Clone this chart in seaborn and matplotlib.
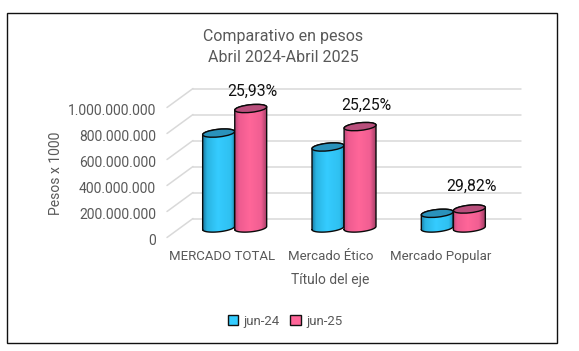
"""Comparativo en pesos, 3D-look cylinder bars on a seaborn barplot"""

import numpy as np
import pandas as pd
import matplotlib
matplotlib.use('Agg')
import matplotlib.pyplot as plt
from matplotlib.colors import LinearSegmentedColormap
from matplotlib.patches import Ellipse, Rectangle
from matplotlib.path import Path
from matplotlib.transforms import IdentityTransform, ScaledTranslation
import seaborn as sns

categories = ['MERCADO TOTAL', 'Mercado Ético', 'Mercado Popular']
jun_24 = [730000000, 623000000, 113000000]
jun_25 = [919000000, 780000000, 146000000]
pct_labels = ['25,93%', '25,25%', '29,82%']
y_ticks = [0, 200000000, 400000000, 600000000, 800000000, 1000000000]
y_tick_labels = ['0', '200.000.000', '400.000.000', '600.000.000', '800.000.000', '1.000.000.000']
series_names = ['jun-24', 'jun-25']

W, H = 579, 351
DEPTH_X, DEPTH_Y = 13, 9.5
TILT = np.radians(6)
TEXT = '#595959'
BODY = {'jun-24': [(0, '#1c7da6'), (0.12, '#2ab4e2'), (0.45, '#35ccff'), (0.85, '#2fc0f0'), (1, '#1f86ad')],
        'jun-25': [(0, '#c04c7c'), (0.12, '#ee5b90'), (0.45, '#ff6699'), (0.8, '#f05e92'), (1, '#99395f')]}
CAP = {'jun-24': '#2a92bb', 'jun-25': '#b94f7c'}
SWATCH = {'jun-24': '#33ccff', 'jun-25': '#ff6699'}

sns.set_theme(style='white')
plt.rcParams['font.family'] = ['Roboto', 'DejaVu Sans']

df = pd.DataFrame({
    'cat': categories * 2,
    'serie': [series_names[0]] * 3 + [series_names[1]] * 3,
    'val': jun_24 + jun_25,
})

fig = plt.figure(figsize=(W / 100, H / 100), dpi=100, facecolor='white')
ax = fig.add_axes([180 / W, 1 - 228 / H, 328 / W, 130 / H])
sns.barplot(data=df, x='cat', y='val', hue='serie', hue_order=series_names,
            palette=SWATCH, width=0.587, gap=0, legend=False, ax=ax, zorder=3)
ax.set_xlim(-0.5, 2.5)
ax.set_ylim(0, 1000000000)
ax.set_xlabel('')
ax.set_ylabel('')
sns.despine(ax=ax, left=True, bottom=True)
ax.patch.set_alpha(0)
ax.tick_params(length=0)
ax.grid(False)

# walls: back gridlines plus the slanted side wall
to_back = ax.transData + ScaledTranslation(DEPTH_X, DEPTH_Y, IdentityTransform())
for v in y_ticks:
    ax.plot([-0.5, 2.5], [v, v], transform=to_back, color='#d9d9d9', lw=1.1, zorder=1, clip_on=False)
    p = ax.transData.transform((-0.5, v))
    ax.plot([p[0] - DEPTH_X, p[0] + DEPTH_X], [p[1] - DEPTH_Y, p[1] + DEPTH_Y],
            transform=IdentityTransform(), color='#d9d9d9', lw=1.1, zorder=1, clip_on=False)

# tick labels sit on the front plane
ax.set_yticks(y_ticks)
ax.set_yticklabels(y_tick_labels, fontsize=10, color=TEXT)
ax.tick_params(axis='y', pad=8)
for lab in ax.get_yticklabels():
    lab.set_transform(lab.get_transform() + ScaledTranslation(-DEPTH_X, -DEPTH_Y - 2, IdentityTransform()))
ax.set_xticks(range(3))
ax.set_xticklabels(categories, fontsize=9.5, color=TEXT)
ax.tick_params(axis='x', pad=16)
for lab in ax.get_xticklabels():
    lab.set_transform(lab.get_transform() + ScaledTranslation(-DEPTH_X, 0, IdentityTransform()))


def ell_pts(cx, cy, a, b, t):
    return np.column_stack([cx + a * np.cos(t) * np.cos(TILT) - b * np.sin(t) * np.sin(TILT),
                            cy + a * np.cos(t) * np.sin(TILT) + b * np.sin(t) * np.cos(TILT)])


# turn each seaborn bar into a cylinder
fig.canvas.draw()
bars = [b for b in ax.patches if b.get_height() > 0]
for i, bar in enumerate(bars):
    name = series_names[i // 3]
    x0, x1 = bar.get_x(), bar.get_x() + bar.get_width()
    h = bar.get_height()
    (l, b0), (r, top) = ax.transData.transform([(x0, 0), (x1, h)])
    cx, a, minor = (l + r) / 2, (r - l) / 2, 3.8
    z = 4 + 0.1 * i + (2 if i >= 3 else 0)
    bar.set_visible(False)
    t_low = np.linspace(np.pi, 2 * np.pi, 40)
    t_up = np.linspace(0, np.pi, 40)
    outline = np.vstack([ell_pts(cx, b0, a, minor, t_low), ell_pts(cx, top, a, minor, t_up)])
    outline = np.vstack([outline, outline[0]])
    path = Path(outline)
    cmap = LinearSegmentedColormap.from_list(name, BODY[name])
    im = ax.imshow(np.linspace(0, 1, 64).reshape(1, -1), cmap=cmap, aspect='auto',
                   extent=(x0, x1, -100000000, h + 100000000), zorder=z, interpolation='bilinear')
    im.set_clip_box(fig.bbox)
    im.set_clip_path(path, IdentityTransform())
    ax.plot(outline[:, 0], outline[:, 1], transform=IdentityTransform(), color='#0a0a0a', lw=1.0,
            zorder=z + 0.01, clip_on=False)
    cap = Ellipse((cx, top), 2 * a, 2 * minor, angle=np.degrees(TILT), transform=IdentityTransform(),
                  facecolor=CAP[name], edgecolor='#0a0a0a', lw=1.0, zorder=z + 0.02, clip_on=False)
    ax.add_patch(cap)
ax.set_xlim(-0.5, 2.5)
ax.set_ylim(0, 1000000000)

# percent labels above the pink bar of each group
pct_offsets = [(18, 10), (22, 14), (18, 15)]
for i, txt in enumerate(pct_labels):
    ax.annotate(txt, xy=(i, jun_25[i]), xytext=pct_offsets[i], textcoords='offset pixels', ha='center',
                va='bottom', fontsize=11.3, color='#111111', zorder=20, annotation_clip=False)

fig.text(283 / W, 1 - 36 / H, 'Comparativo en pesos', ha='center', va='center', fontsize=11.5, color=TEXT)
fig.text(283 / W, 1 - 57 / H, 'Abril 2024-Abril 2025', ha='center', va='center', fontsize=11.5, color=TEXT)
fig.text(56 / W, 1 - 173 / H, 'Pesos x 1000', rotation=90, ha='center', va='center', fontsize=10, color=TEXT)
fig.text(330 / W, 1 - 280 / H, 'Título del eje', ha='center', va='center', fontsize=10, color=TEXT)

# legend
handles = [Rectangle((0, 0), 1, 1, facecolor=SWATCH[n], edgecolor='#111111', lw=1.0) for n in series_names]
fig.legend(handles, series_names, loc='center', bbox_to_anchor=(285 / W, 1 - 321 / H), ncol=2, frameon=False,
           fontsize=9.5, labelcolor=TEXT, handlelength=0.8, handleheight=0.8, handletextpad=0.4, columnspacing=0.8)

fig.add_artist(Rectangle((7.5 / W, 1 - 343 / H), 549 / W, 330 / H, transform=fig.transFigure,
                         facecolor='none', edgecolor='#111111', lw=1.0))
fig.savefig('out.png', dpi=100)
